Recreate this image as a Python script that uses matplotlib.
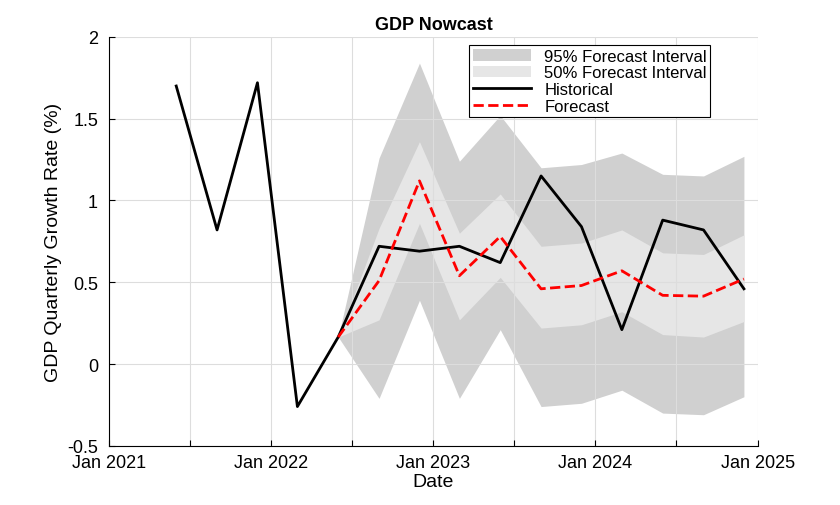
import matplotlib
matplotlib.use('Agg')
import matplotlib.pyplot as plt
import matplotlib.dates as mdates
import pandas as pd

plt.rcParams['font.family'] = ['Liberation Sans', 'DejaVu Sans']

# quarterly data
hist_dates = pd.date_range('2021-06-01', periods=15, freq='3MS')
historico = [1.70, 0.82, 1.72, -0.26, 0.165, 0.72, 0.69, 0.72, 0.62, 1.15, 0.84, 0.21, 0.88, 0.82, 0.46]

fc_dates = hist_dates[4:]
previsao = [0.165, 0.51, 1.12, 0.54, 0.78, 0.46, 0.48, 0.57, 0.42, 0.415, 0.52]
sup95 = [0.165, 1.26, 1.84, 1.24, 1.52, 1.20, 1.22, 1.29, 1.16, 1.15, 1.27]
inf95 = [0.165, -0.21, 0.39, -0.21, 0.21, -0.26, -0.24, -0.16, -0.30, -0.31, -0.20]
sup50 = [0.165, 0.83, 1.36, 0.80, 1.04, 0.72, 0.74, 0.82, 0.68, 0.67, 0.79]
inf50 = [0.165, 0.27, 0.86, 0.27, 0.53, 0.22, 0.24, 0.32, 0.18, 0.165, 0.26]

fig = plt.figure(figsize=(8.4, 5.06), dpi=100)
ax = fig.add_axes([0.13, 0.117, 0.772, 0.808])

ax.fill_between(fc_dates, inf95, sup95, color='#d0d0d0', lw=0, label='95% Forecast Interval')
ax.fill_between(fc_dates, inf50, sup50, color='#e6e6e6', lw=0, label='50% Forecast Interval')
ax.plot(hist_dates, historico, 'k-', lw=2, label='Historical')
ax.plot(fc_dates, previsao, 'r--', lw=2, label='Forecast')

ax.set_xlim(pd.Timestamp('2021-01-01'), pd.Timestamp('2025-01-01'))
ax.set_ylim(-0.5, 2)
ax.set_yticks([-0.5, 0, 0.5, 1, 1.5, 2])
ax.set_yticklabels(['-0.5', '0', '0.5', '1', '1.5', '2'])
ax.xaxis.set_major_locator(mdates.MonthLocator(bymonth=[1, 7]))
ax.xaxis.set_major_formatter(plt.FuncFormatter(
    lambda v, p: mdates.num2date(v).strftime('%b %Y') if mdates.num2date(v).month == 1 else ''))
ax.grid(True, color='#dddddd', lw=0.8)
ax.tick_params(direction='in', labelsize=13, length=4)
ax.tick_params(axis='x', pad=6)
ax.tick_params(axis='y', pad=8)
for s in ['top', 'right']:
    ax.spines[s].set_visible(False)

ax.set_title('GDP Nowcast', fontsize=13, fontweight='bold')
ax.set_xlabel('Date', fontsize=14, labelpad=1)
ax.set_ylabel('GDP Quarterly Growth Rate (%)', fontsize=14)
leg = ax.legend(loc='upper right', bbox_to_anchor=(0.94, 1.0), fontsize=12, fancybox=False,
                framealpha=1, edgecolor='black', borderpad=0.2, labelspacing=0.1, handlelength=3.5)
leg.get_frame().set_linewidth(0.8)

fig.savefig('out.png')
